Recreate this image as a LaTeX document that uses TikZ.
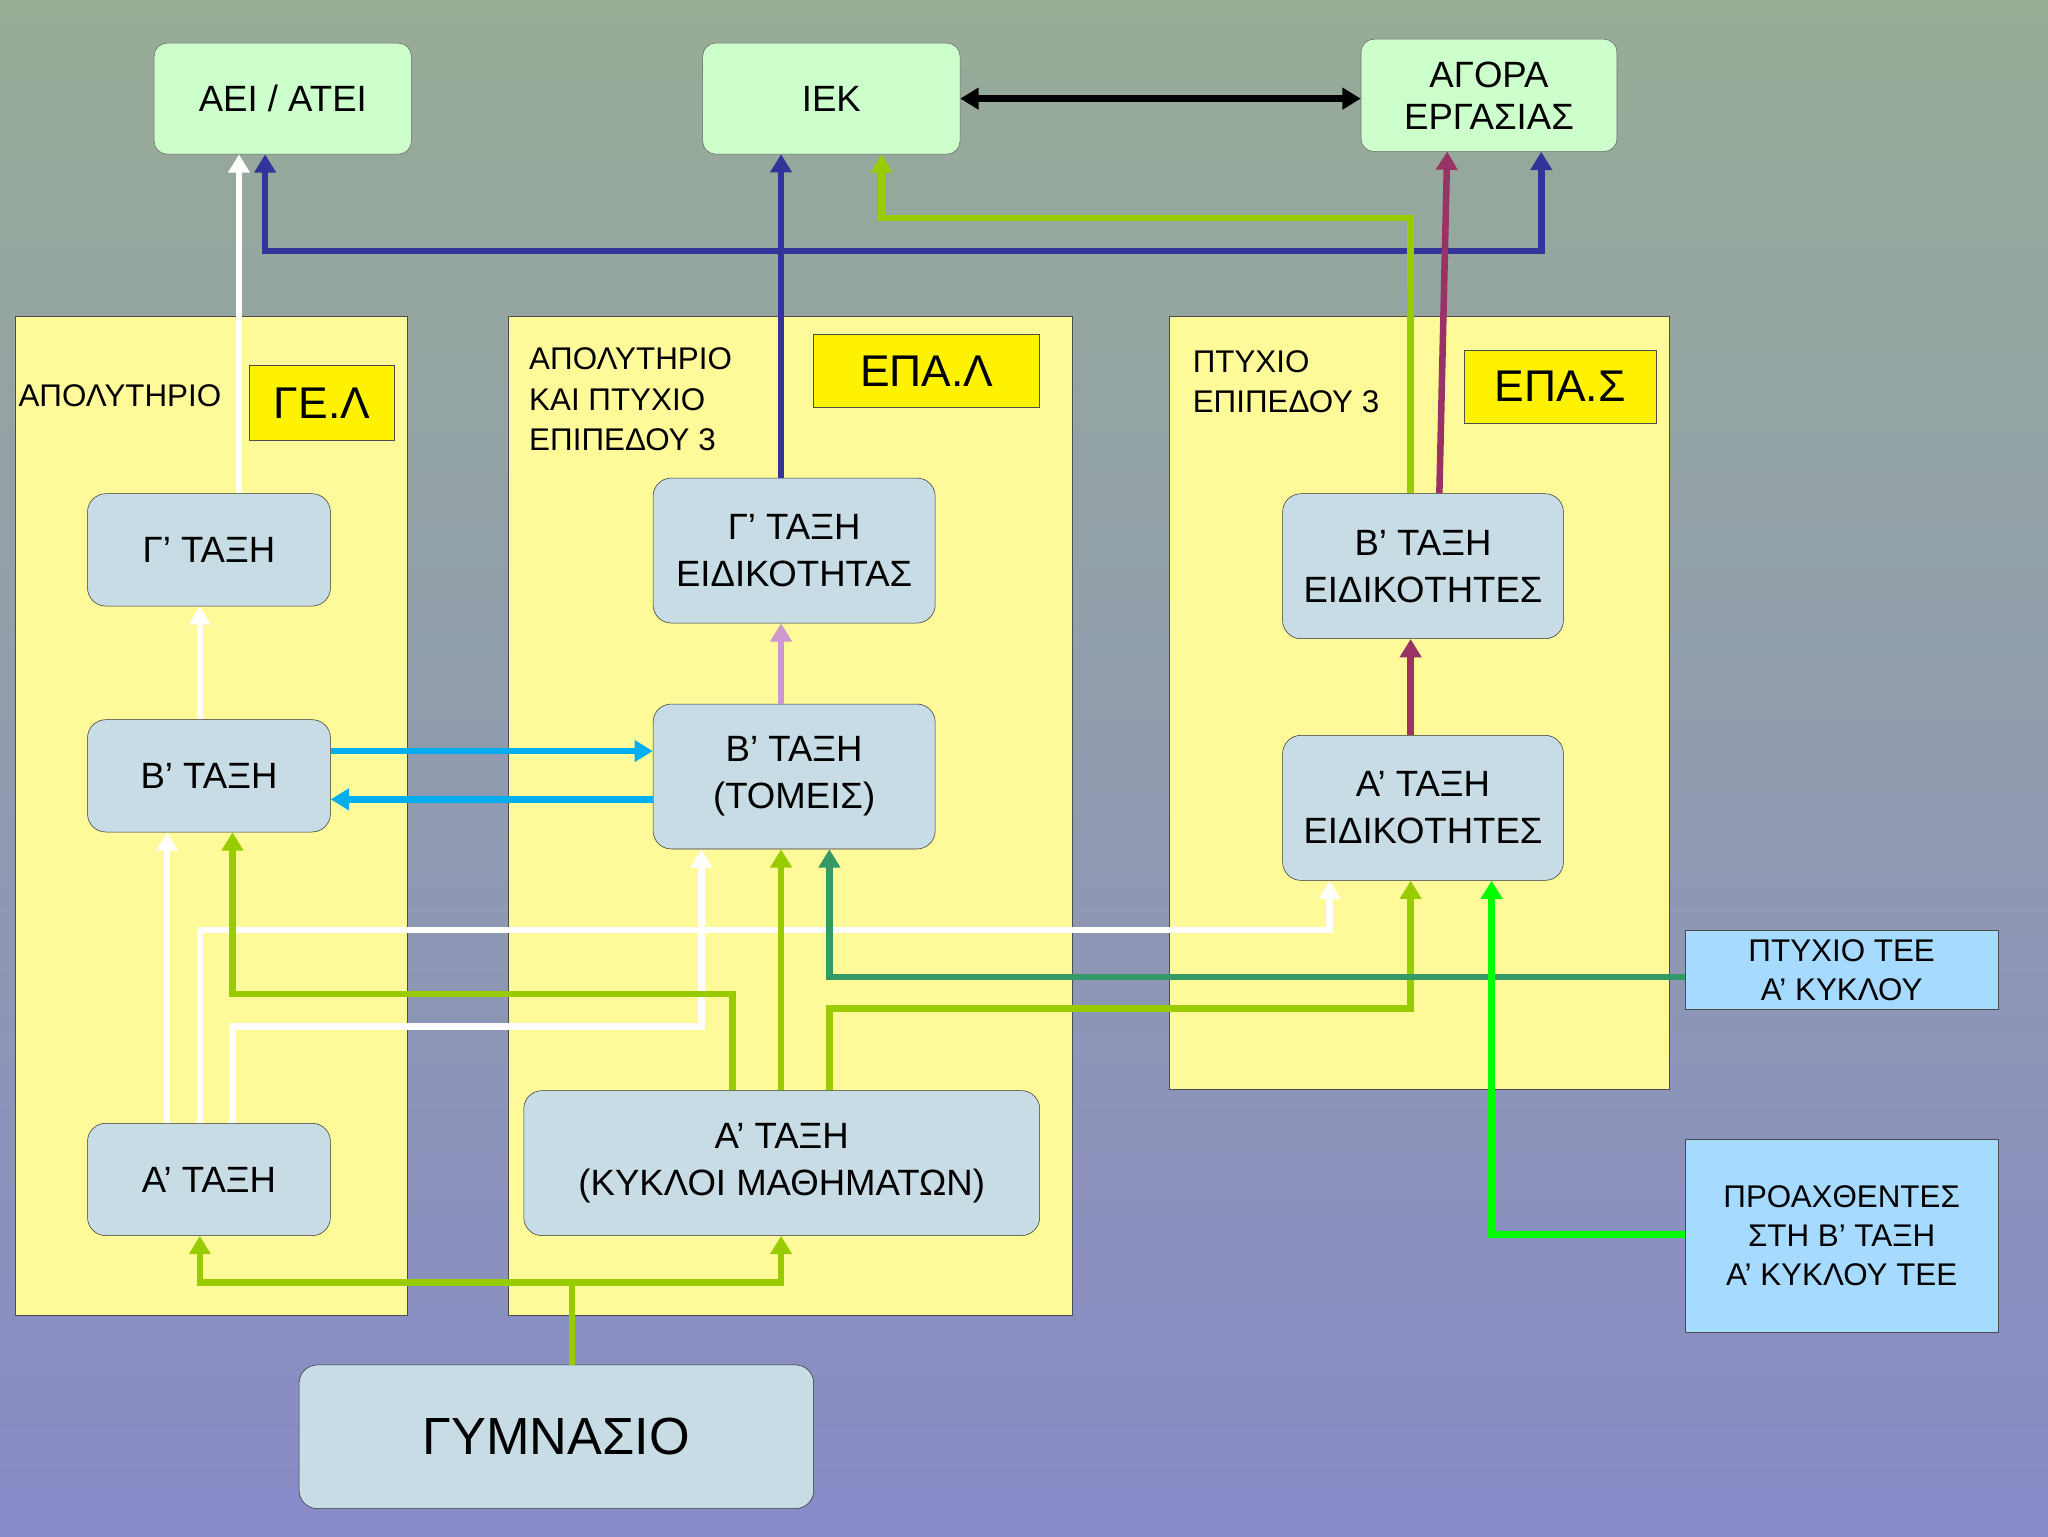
\documentclass[tikz,border=0pt]{standalone}
\usepackage{fontspec}
\setmainfont{Liberation Sans}
\usetikzlibrary{arrows.meta}
\begin{document}
\begin{tikzpicture}[x=1pt,y=-1pt,
  top/.style={draw=black!60,fill=green!20!white,rounded corners=10pt,font=\fontsize{28}{32}\selectfont,align=center,inner sep=0pt},
  cls/.style={draw=black!80,fill=cyan!10!teal!25!white,rounded corners=14pt,font=\fontsize{28}{36}\selectfont,align=center,inner sep=0pt},
  panel/.style={draw=black!70,fill=yellow!40!white},
  lbl/.style={draw=black!70,fill=yellow,font=\fontsize{34}{38}\selectfont,inner sep=0pt},
  side/.style={draw=black!70,fill=blue!40!cyan!35!white,font=\fontsize{24}{30}\selectfont,align=center,inner sep=0pt},
  ptxt/.style={font=\fontsize{24}{31}\selectfont,align=left,anchor=north west,inner sep=0pt},
  con/.style={line width=5pt},
  arr/.style={con,-{Triangle[length=14pt,width=16pt]}}]
\fill[top color={rgb,255:red,152;green,172;blue,150},bottom color={rgb,255:red,136;green,138;blue,200}] (0,0) rectangle (1568,1176);
\useasboundingbox (0,0) rectangle (1568,1176);
% panels
\node[panel,minimum width=300pt,minimum height=765pt,inner sep=0pt] (pg) at (162,624.5) {};
\node[panel,minimum width=432pt,minimum height=765pt,inner sep=0pt] (pl) at (605,624.5) {};
\node[panel,minimum width=383pt,minimum height=592pt,inner sep=0pt] (ps) at (1086.5,538) {};
\node[ptxt] (tg) at (14,294) {ΑΠΟΛΥΤΗΡΙΟ};
\node[ptxt] (tl) at (405,266) {ΑΠΟΛΥΤΗΡΙΟ\\ΚΑΙ ΠΤΥΧΙΟ\\ΕΠΙΠΕΔΟΥ 3};
\node[ptxt] (ts) at (913,268) {ΠΤΥΧΙΟ\\ΕΠΙΠΕΔΟΥ 3};
\node[lbl,minimum width=111pt,minimum height=57pt] (lg) at (246.5,308.5) {ΓΕ.Λ};
\node[lbl,minimum width=173pt,minimum height=56pt] (ll) at (709.5,284) {ΕΠΑ.Λ};
\node[lbl,minimum width=147pt,minimum height=56pt] (ls) at (1194.5,296) {ΕΠΑ.Σ};
% top
\node[top,minimum width=197pt,minimum height=85pt] (aei) at (216.5,75.5) {ΑΕΙ / ΑΤΕΙ};
\node[top,minimum width=197pt,minimum height=85pt] (iek) at (636.5,75.5) {ΙΕΚ};
\node[top,minimum width=196pt,minimum height=86pt] (ag) at (1140,73) {ΑΓΟΡΑ\\ΕΡΓΑΣΙΑΣ};
% classes
\node[cls,minimum width=186pt,minimum height=86pt] (g3) at (160,421) {Γ’ ΤΑΞΗ};
\node[cls,minimum width=186pt,minimum height=86pt] (g2) at (160,594) {Β’ ΤΑΞΗ};
\node[cls,minimum width=186pt,minimum height=86pt] (g1) at (160,903) {Α’ ΤΑΞΗ};
\node[cls,minimum width=216pt,minimum height=111pt] (l3) at (608,421.5) {Γ’ ΤΑΞΗ\\ΕΙΔΙΚΟΤΗΤΑΣ};
\node[cls,minimum width=216pt,minimum height=111pt] (l2) at (608,594.5) {Β’ ΤΑΞΗ\\(ΤΟΜΕΙΣ)};
\node[cls,minimum width=395pt,minimum height=111pt] (l1) at (598.5,890.5) {Α’ ΤΑΞΗ\\(ΚΥΚΛΟΙ ΜΑΘΗΜΑΤΩΝ)};
\node[cls,minimum width=215pt,minimum height=111pt] (s2) at (1089.5,433.5) {Β’ ΤΑΞΗ\\ΕΙΔΙΚΟΤΗΤΕΣ};
\node[cls,minimum width=215pt,minimum height=111pt] (s1) at (1089.5,618.5) {Α’ ΤΑΞΗ\\ΕΙΔΙΚΟΤΗΤΕΣ};
\node[cls,minimum width=394pt,minimum height=110pt,font=\fontsize{40}{44}\selectfont] (gym) at (426,1100) {ΓΥΜΝΑΣΙΟ};
\node[side,minimum width=240pt,minimum height=61pt] (tee) at (1410,742.5) {ΠΤΥΧΙΟ ΤΕΕ\\Α’ ΚΥΚΛΟΥ};
\node[side,minimum width=240pt,minimum height=148pt] (pro) at (1410,946) {ΠΡΟΑΧΘΕΝΤΕΣ\\ΣΤΗ Β’ ΤΑΞΗ\\Α’ ΚΥΚΛΟΥ ΤΕΕ};
% connectors
\draw[con,{Triangle[length=14pt,width=16pt]}-{Triangle[length=14pt,width=16pt]},black] (iek.east) -- (ag.west|-iek.east);
\definecolor{nav}{RGB}{51,51,153}
\definecolor{lg}{RGB}{153,204,0}
\definecolor{mar}{RGB}{153,51,102}
\definecolor{dg}{RGB}{51,153,102}
\draw[arr,nav] (l3.north-|598,0) -- (598,118);
\draw[con,nav] (203,192) -- (1180,192);
\draw[arr,nav] (203,194.5) -- (aei.south-|203,0);
\draw[arr,nav] (1180,194.5) -- (ag.south-|1180,0);
\draw[arr,white] (g3.north-|183,0) -- (aei.south-|183,0);
\draw[arr,white] (g2.north-|153,0) -- (g3.south-|153,0);
\draw[arr,lg] (s2.north-|1080,0) -- (1080,167) -- (675,167) -- (iek.south-|675,0);
\draw[arr,mar] (s2.north-|1102,0) -- (1108,116);
\draw[arr,mar] (s1.north-|1080,0) -- (s2.south-|1080,0);
\draw[arr,violet!40!white] (l2.north-|598,0) -- (l3.south-|598,0);
\draw[arr,cyan] (g2.east|-0,575) -- (l2.west|-0,575);
\draw[arr,cyan] (l2.west|-0,612) -- (g2.east|-0,612);
\draw[arr,white] (g1.north-|128,0) -- (g2.south-|128,0);
\draw[arr,white] (g1.north-|153,0) -- (153,712) -- (1018,712) -- (s1.south-|1018,0);
\draw[arr,white] (g1.north-|178,0) -- (178,786) -- (537,786) -- (l2.south-|537,0);
\draw[arr,lg] (l1.north-|561,0) -- (561,761) -- (178,761) -- (g2.south-|178,0);
\draw[arr,lg] (l1.north-|598,0) -- (l2.south-|598,0);
\draw[arr,lg] (l1.north-|635,0) -- (635,772) -- (1080,772) -- (s1.south-|1080,0);
\draw[arr,dg] (tee.west|-0,748) -- (635,748) -- (l2.south-|635,0);
\draw[arr,green] (pro.west|-0,945) -- (1142,945) -- (s1.south-|1142,0);
\draw[con,lg] (gym.north-|438,0) -- (438,982);
\draw[arr,lg] (150.5,982) -- (153,982) -- (g1.south-|153,0);
\draw[arr,lg] (153,982) -- (598,982) -- (l1.south-|598,0);
\end{tikzpicture}
\end{document}
